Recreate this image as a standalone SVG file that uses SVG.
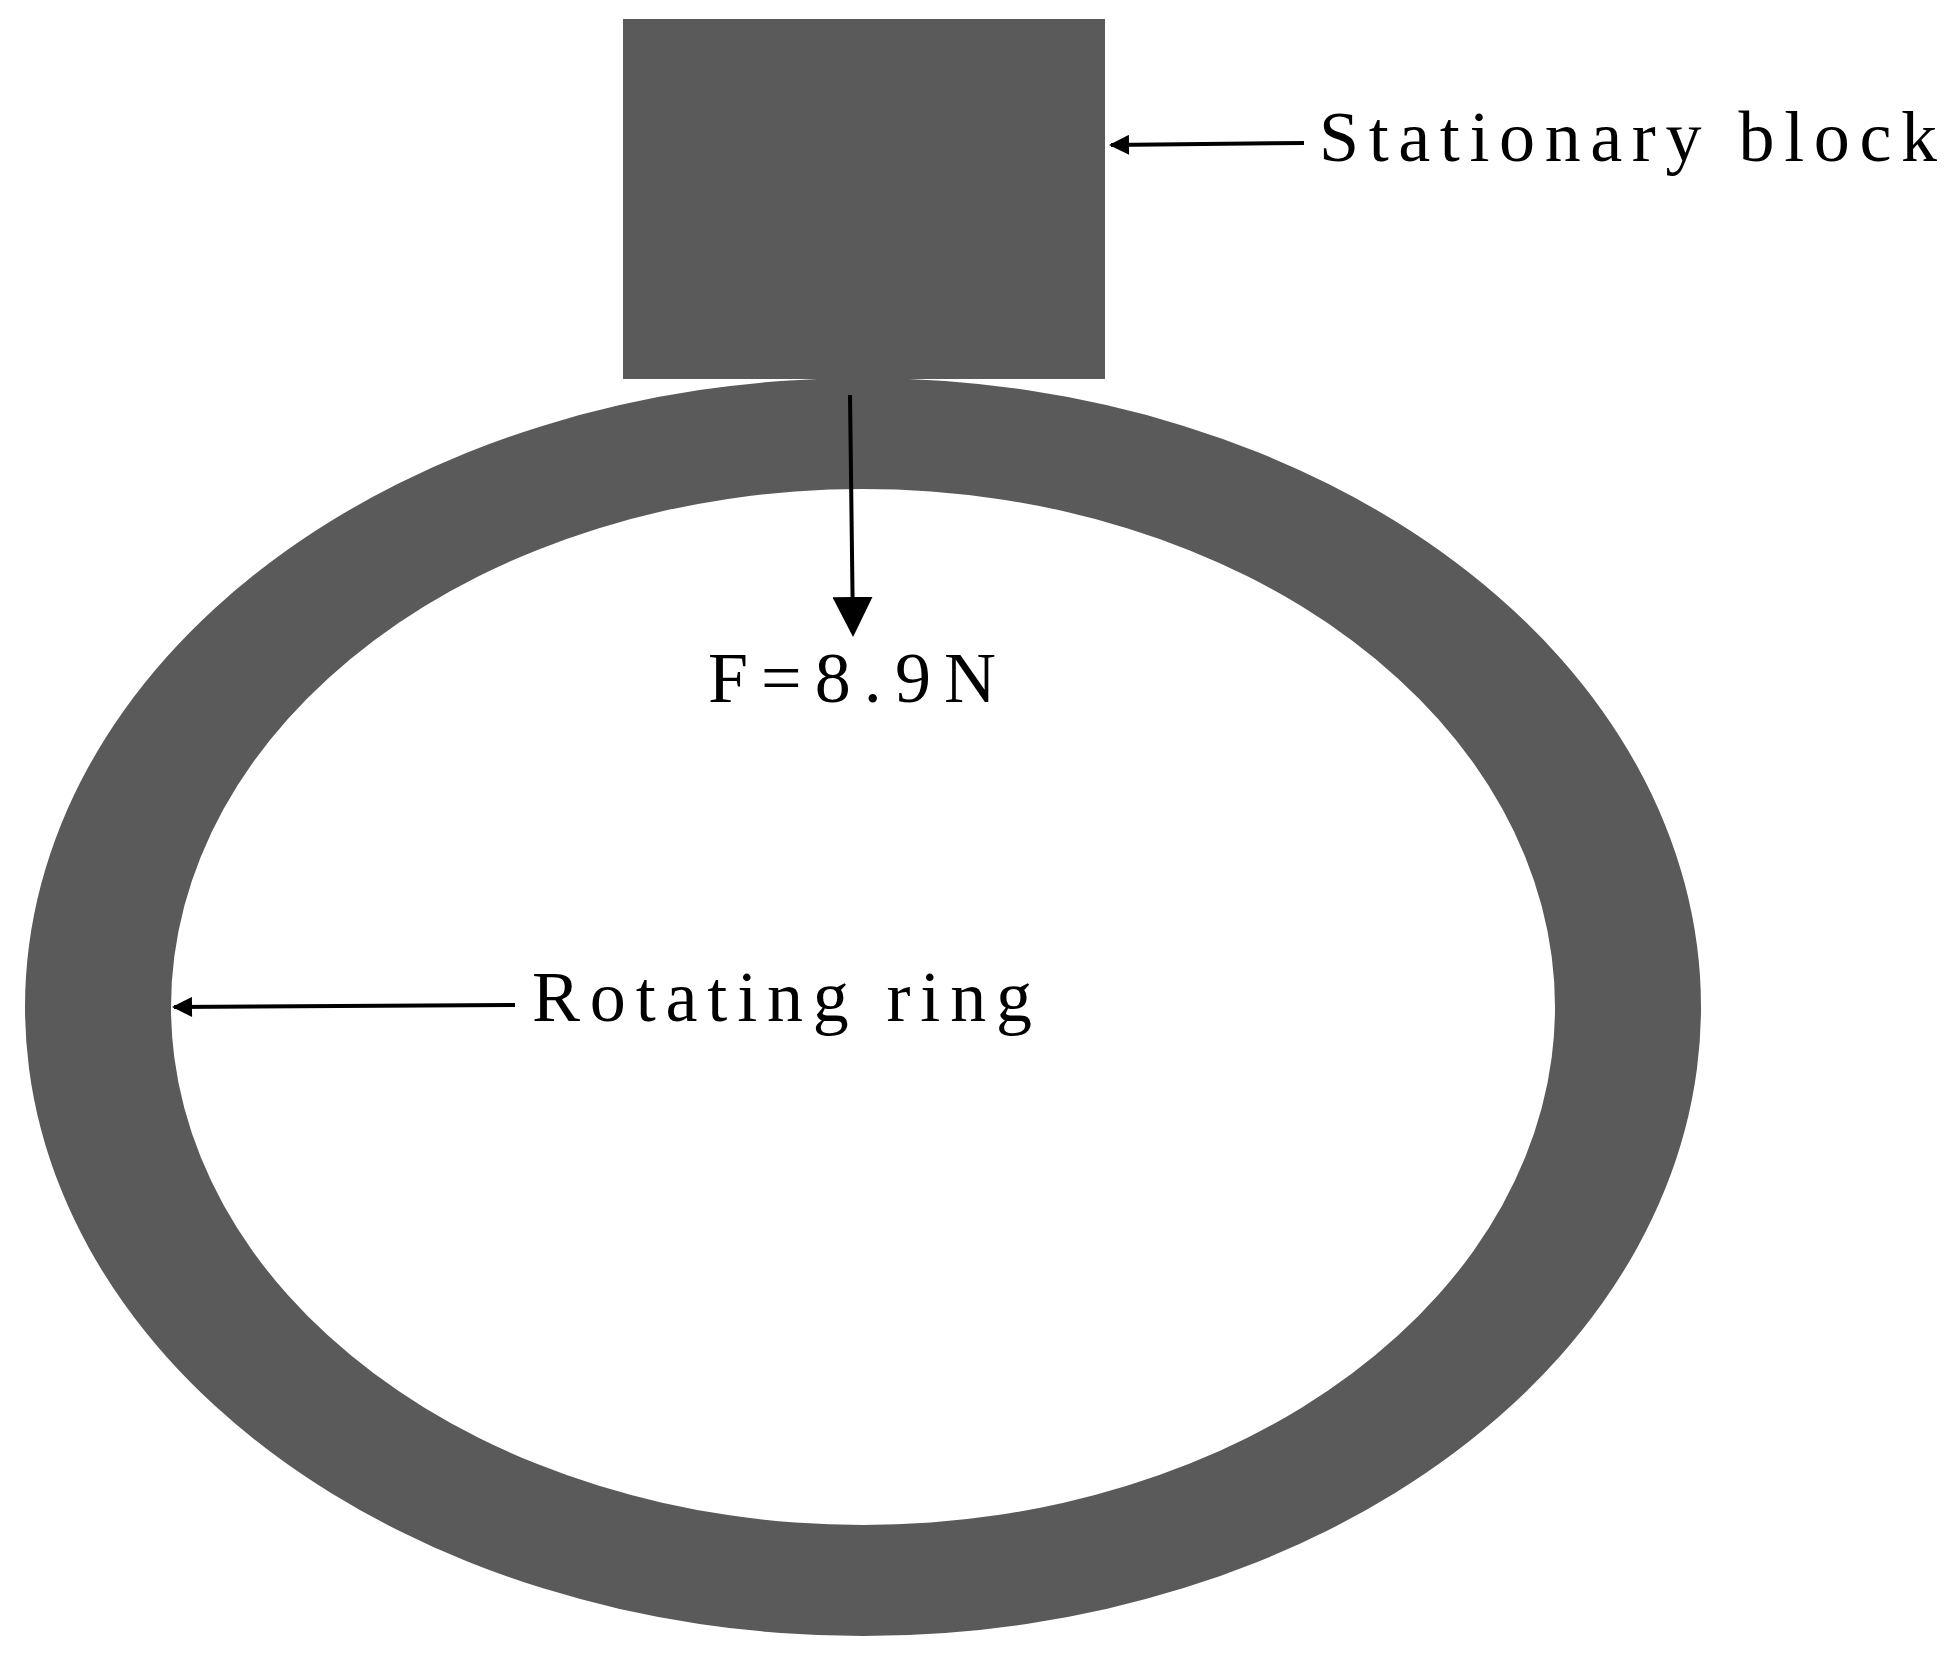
<svg xmlns="http://www.w3.org/2000/svg" width="1947" height="1655" viewBox="0 0 1947 1655">
<style>
.shape{fill:#5a5a5a}
.lbl{font-family:"Liberation Serif",serif;font-size:72px;fill:#000}
.con{stroke:#000;stroke-width:4;fill:none}
</style>
<defs>
<marker id="ah" viewBox="0 0 10 10" refX="9" refY="5" markerWidth="6" markerHeight="5" markerUnits="strokeWidth" orient="auto"><path d="M0,0L10,5L0,10z" fill="#000"/></marker>
<marker id="ahb" viewBox="0 0 10 10" refX="9" refY="5" markerWidth="10" markerHeight="10" markerUnits="strokeWidth" orient="auto"><path d="M0,0L10,5L0,10z" fill="#000"/></marker>
</defs>
<rect width="1947" height="1655" fill="#fff"/>
<g id="ring"><path class="shape" fill-rule="evenodd" d="M25,1007a838,629 0 1,0 1676,0a838,629 0 1,0 -1676,0z M171,1007a692,518 0 1,0 1384,0a692,518 0 1,0 -1384,0z"/></g>
<g id="block"><rect class="shape" x="623" y="19" width="482" height="360"/></g>
<g id="connectors">
<path class="con" d="M850,395L853,633" marker-end="url(#ahb)"/>
<path class="con" d="M1304,143L1111,145" marker-end="url(#ah)" stroke-width="5"/>
<path class="con" d="M515,1005L174,1007" marker-end="url(#ah)" stroke-width="5"/>
</g>
<g id="labels">
<text class="lbl" x="708" y="702" textLength="288" lengthAdjust="spacing">F=8.9N</text>
<text class="lbl" x="1319" y="161" textLength="618" lengthAdjust="spacing">Stationary block</text>
<text class="lbl" x="532" y="1021" textLength="500" lengthAdjust="spacing">Rotating ring</text>
</g>
</svg>
